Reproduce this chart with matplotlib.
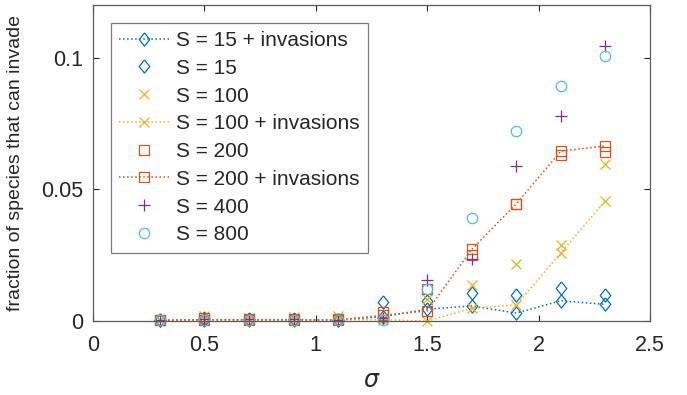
import matplotlib
matplotlib.use("Agg")
import matplotlib.pyplot as plt
import numpy as np

plt.rcParams['font.family'] = ['Liberation Sans', 'DejaVu Sans']
plt.rcParams['mathtext.fontset'] = 'dejavusans'

# sigma values
sigma = [0.3, 0.5, 0.7, 0.9, 1.1, 1.3, 1.5, 1.7, 1.9, 2.1, 2.3]

# fraction of species that can invade
s15_inv = [0.0003, 0.0005, 0.0004, 0.0004, 0.0004, 0.0016, 0.0045, 0.0057, 0.0030, 0.0077, 0.0063]
s15 = [0.0002, 0.0012, 0.0008, 0.0006, 0.0005, 0.0073, 0.0077, 0.0108, 0.0098, 0.0124, 0.0098]
s100 = [0.0005, 0.0020, 0.0010, 0.0015, 0.0020, 0.0010, 0.0085, 0.0136, 0.0218, 0.0288, 0.0597]
s100_inv = [0.0003, 0.0005, 0.0005, 0.0005, 0.0005, 0.0005, 0.0000, 0.0048, 0.0061, 0.0259, 0.0457]
s200 = [0.0003, 0.0010, 0.0008, 0.0008, 0.0006, 0.0035, 0.0120, 0.0250, 0.0445, 0.0630, 0.0641]
s200_inv = [0.0003, 0.0005, 0.0005, 0.0005, 0.0004, 0.0022, 0.0038, 0.0272, 0.0445, 0.0645, 0.0665]
s400 = [0.0004, 0.0008, 0.0008, 0.0006, 0.0005, 0.0010, 0.0155, 0.0234, 0.0588, 0.0778, 0.1045]
s800 = [0.0002, 0.0005, 0.0005, 0.0004, 0.0003, 0.0005, 0.0121, 0.0393, 0.0723, 0.0891, 0.1008]

blue = '#0072BD'
orange = '#D95319'
yellow = '#EDB120'
purple = '#7E2F8E'
cyan = '#4DBEEE'

diamond = [(0, 1), (0.8, 0), (0, -1), (-0.8, 0), (0, 1)]

fig = plt.figure(figsize=(6.87, 3.95), dpi=100)
ax = fig.add_axes([93/687, 1-321/395, (650-93)/687, (321-5)/395])

kw = dict(markerfacecolor='none', markeredgewidth=0.9, clip_on=False)
ax.plot(sigma, s15_inv, ':', color=blue, marker=diamond, markersize=9.5, lw=1.1,
        label='S = 15 + invasions', **kw)
ax.plot(sigma, s15, color=blue, marker=diamond, markersize=9.5, linestyle='none',
        label='S = 15', **kw)
ax.plot(sigma, s100, color=yellow, marker='x', markersize=7, linestyle='none',
        label='S = 100', **kw)
ax.plot(sigma, s100_inv, ':', color=yellow, marker='x', markersize=7, lw=1.1,
        label='S = 100 + invasions', **kw)
ax.plot(sigma, s200, color=orange, marker='s', markersize=6.5, linestyle='none',
        label='S = 200', **kw)
ax.plot(sigma, s200_inv, ':', color=orange, marker='s', markersize=6.5, lw=1.1,
        label='S = 200 + invasions', **kw)
ax.plot(sigma, s400, color=purple, marker='+', markersize=8, linestyle='none',
        label='S = 400', **kw)
ax.plot(sigma, s800, color=cyan, marker='o', markersize=7.5, linestyle='none',
        label='S = 800', **kw)

ax.set_xlim(0, 2.5)
ax.set_ylim(0, 0.12)
ax.set_xticks([0, 0.5, 1, 1.5, 2, 2.5])
ax.set_xticklabels(['0', '0.5', '1', '1.5', '2', '2.5'])
ax.set_yticks([0, 0.05, 0.1])
ax.set_yticklabels(['0', '0.05', '0.1'])
ax.tick_params(direction='in', top=True, right=True, length=4, width=0.8,
               labelsize=15.5, colors='#262626')
ax.tick_params(axis='x', pad=10)
ax.tick_params(axis='y', pad=7)
for sp in ax.spines.values():
    sp.set_color('#5a5a5a')
    sp.set_linewidth(0.9)

ax.set_xlabel(r'$\sigma$', fontsize=17, color='#262626', labelpad=10)
ax.set_ylabel('fraction of species that can invade', fontsize=14, color='#262626', labelpad=12)

leg = ax.legend(loc='upper left', bbox_to_anchor=(111/687, 1-22.7/395),
                bbox_transform=fig.transFigure, borderaxespad=0, fontsize=15,
                fancybox=False, framealpha=1, edgecolor='#7a7a7a',
                handlelength=2.4, handletextpad=0.3, labelspacing=0.42,
                borderpad=0.4)
leg.get_frame().set_linewidth(0.9)
for t in leg.get_texts():
    t.set_color('#262626')

fig.savefig('out.png', dpi=100)
